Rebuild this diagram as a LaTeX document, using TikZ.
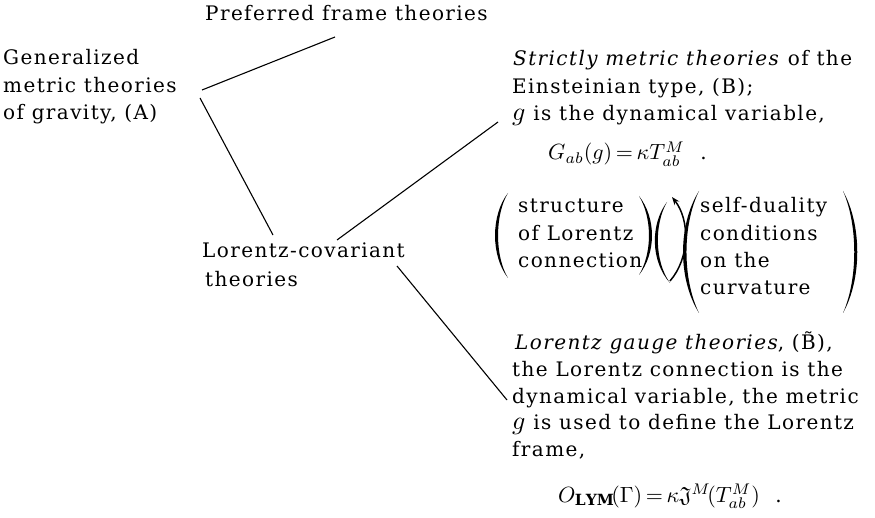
\documentclass[tikz,border=0pt]{standalone}
\usepackage{amssymb}
\usepackage{graphicx}
\usepackage{fontspec}
\setmainfont{DejaVu Serif}[LetterSpace=7]
\usetikzlibrary{arrows.meta}
\newcommand{\mymath}[1]{{\fontsize{10}{12}\selectfont\scalebox{2.2}{$#1$}}}
\newcommand{\myg}{{\fontsize{10}{12}\selectfont\scalebox{2.6}{$g$}}}
\begin{document}
\begin{tikzpicture}[x=1pt,y=-1pt,
  txt/.style={anchor=base west, inner sep=0pt, font=\fontsize{20}{26}\selectfont},
  eqn/.style={anchor=base west, inner sep=0pt, font=\fontsize{20}{26}\selectfont},
  conn/.style={line width=1.1pt},
  paren/.style={fill=black}]
\useasboundingbox (0,0) rectangle (875,518);
% left block
\node[txt] (gen1) at (3,65) {Generalized};
\node[txt] (gen2) at (3,93) {metric theories};
\node[txt] (gen3) at (3,120) {of gravity, (A)};
\node[txt] (pref) at (205,21) {Preferred frame theories};
\node[txt] (lc1) at (202,258) {Lorentz-covariant};
\node[txt] (lc2) at (205,287) {theories};
% strictly metric
\node[txt] (sm1) at (513,66) {\textit{Strictly metric theories} of the};
\node[txt] (sm2) at (512,94) {Einsteinian type, (B);};
\node[txt] (sm3) at (512,121) {\myg\ is the dynamical variable,};
\node[eqn] (eq1) at (548,160) {\mymath{G_{ab}(g)\,{=}\,\kappa T^{M}_{ab}}\ \ .};
% paren block
\node[txt] (st1) at (518,213) {structure};
\node[txt] (st2) at (518,241) {of Lorentz};
\node[txt] (st3) at (518,268) {connection};
\node[txt] (sd1) at (700,213) {self-duality};
\node[txt] (sd2) at (700,241) {conditions};
\node[txt] (sd3) at (700,268) {on the};
\node[txt] (sd4) at (700,295) {curvature};
% lorentz gauge
\node[txt] (lg1) at (515,350) {\textit{Lorentz gauge theories}, (\~{B}),};
\node[txt] (lg2) at (512,376) {the Lorentz connection is the};
\node[txt] (lg3) at (512,403) {dynamical variable, the metric};
\node[txt] (lg4) at (512,429) {\myg\ is used to define the Lorentz};
\node[txt] (lg5) at (512,456) {frame,};
\node[eqn] (eq2) at (558,502) {\mymath{O_{\mathbf{LYM}}\!(\Gamma)\,{=}\,\kappa\mathfrak{J}^{M}\!(T^{M}_{ab})}\ \ .};
% connector ends
\coordinate (c1a) at (202,90);  \coordinate (c1b) at (335,37);
\coordinate (c2a) at (200,98);  \coordinate (c2b) at (273,235);
\coordinate (c3a) at (337,240); \coordinate (c3b) at (498,122);
\coordinate (c4a) at (397,266); \coordinate (c4b) at (507,400);
\draw[conn] (c1a) -- (c1b);
\draw[conn] (c2a) -- (c2b);
\draw[conn] (c3a) -- (c3b);
\draw[conn] (c4a) -- (c4b);
% parentheses
\fill[paren] (508,193) .. controls (490.7,215) and (490.7,256) .. (508,278)
  .. controls (494.7,256) and (494.7,215) .. (508,193) -- cycle;
\fill[paren] (639,196) .. controls (656.3,218) and (656.3,253) .. (639,275)
  .. controls (652.3,253) and (652.3,218) .. (639,196) -- cycle;
\fill[paren] (667,202) .. controls (650.3,224) and (650.3,261) .. (670,283)
  .. controls (654.3,261) and (654.3,224) .. (667,202) -- cycle;
\draw[line width=1.5pt, {Stealth[length=8pt,width=6pt]}-] (672,197) .. controls (690,220) and (690,258) .. (670,281);
\fill[paren] (699,191) .. controls (677.7,225) and (677.7,279) .. (699,313)
  .. controls (682.3,279) and (682.3,225) .. (699,191) -- cycle;
\fill[paren] (843,191) .. controls (862,225) and (862,279) .. (843,313)
  .. controls (858,279) and (858,225) .. (843,191) -- cycle;
\end{tikzpicture}
\end{document}
